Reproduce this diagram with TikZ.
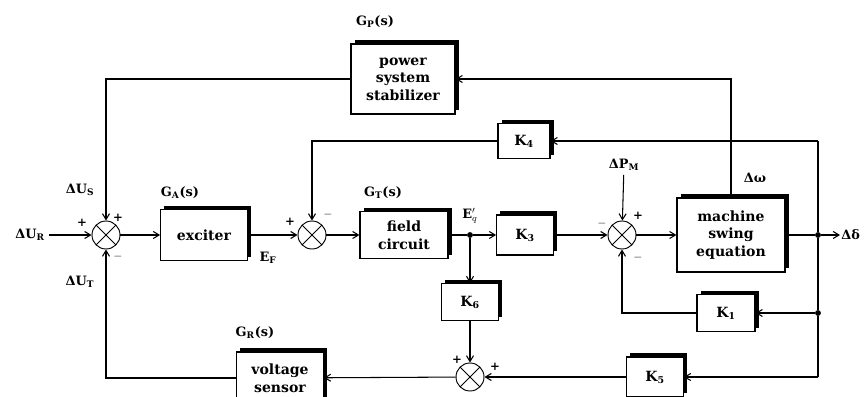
\documentclass[tikz,border=0pt]{standalone}
\usepackage{fontspec}
\setmainfont{DejaVu Serif}
\usetikzlibrary{arrows.meta,positioning,shadows}

\begin{document}
\begin{tikzpicture}[x=0.03cm, y=-0.03cm,
    font=\bfseries\fontsize{11}{13}\selectfont,
    block/.style={draw, fill=white, line width=0.9pt, align=center, inner sep=1pt, font=\bfseries\fontsize{12}{15}\selectfont, general shadow={fill=black, shadow xshift=3pt, shadow yshift=3pt}},
    sumnode/.style={draw, circle, fill=white, line width=0.8pt, minimum size=0.84cm, inner sep=0pt, path picture={\draw[line width=0.8pt] (path picture bounding box.north west) -- (path picture bounding box.south east) (path picture bounding box.north east) -- (path picture bounding box.south west);}},
    arrow/.style={-{Straight Barb[length=5pt,width=6pt]}, line width=0.9pt},
    line/.style={line width=0.9pt},
    dot/.style={circle, fill, inner sep=0pt, minimum size=5pt},
    sign/.style={font=\bfseries\fontsize{10}{10}\selectfont, inner sep=0pt}
  ]
    \useasboundingbox (0,0) rectangle (865,397);
    % forward path
    \node (ur) at (30,235) {ΔU\textsubscript{R}};
    \node[sumnode] (s1) at (106,235) {};
    \node[block, minimum width=2.6cm, minimum height=1.53cm] (exc) at (204,235) {exciter};
    \node at (180,193) {G\textsubscript{A}(s)};
    \node at (268,258) {E\textsubscript{F}};
    \node[sumnode] (s2) at (312,235) {};
    \node[block, minimum width=2.64cm, minimum height=1.4cm] (fc) at (404,235) {field\\circuit};
    \node at (383,193) {G\textsubscript{T}(s)};
    \node[dot] (j1) at (470,235) {};
    \node at (470,216) {E$'_{q}$};
    \node[block, minimum width=1.7cm, minimum height=1.2cm] (k3) at (525,235) {K\textsubscript{3}};
    \node[sumnode] (s4) at (622,235) {};
    \node (pm) at (624,165) {ΔP\textsubscript{M}};
    \node[block, minimum width=3.24cm, minimum height=2.22cm] (mse) at (731,235) {machine\\swing\\equation};
    \node at (755,178) {Δω};
    \node[dot] (j2) at (818,235) {};
    \node[anchor=west, inner sep=1pt] (dd) at (840,235) {Δδ};
    % feedback blocks
    \node[block, minimum width=3.12cm, minimum height=2.1cm] (pss) at (403,79) {power\\system\\stabilizer};
    \node at (375,22) {G\textsubscript{P}(s)};
    \node[block, minimum width=1.56cm, minimum height=1.05cm] (k4) at (524,141) {K\textsubscript{4}};
    \node[block, minimum width=1.74cm, minimum height=1.1cm] (k1) at (726,313) {K\textsubscript{1}};
    \node[dot] (j3) at (818,313) {};
    \node[block, minimum width=1.7cm, minimum height=1.1cm] (k6) at (470,302) {K\textsubscript{6}};
    \node[sumnode] (s3) at (470,377) {};
    \node[block, minimum width=1.7cm, minimum height=1.2cm] (k5) at (655,377) {K\textsubscript{5}};
    \node[block, minimum width=2.6cm, minimum height=1.56cm] (vs) at (280,378) {voltage\\sensor};
    \node at (255,333) {G\textsubscript{R}(s)};
    \coordinate (c1) at (818,141);
    \coordinate (c7) at (818,377);
    % labels at the summing points
    \node at (80,190) {ΔU\textsubscript{S}};
    \node at (80,282) {ΔU\textsubscript{T}};
    \node[sign] at (82,223) {+};
    \node[sign] at (118,218) {+};
    \node[sign] at (118,257) {$-$};
    \node[sign] at (290,222) {+};
    \node[sign] at (328,215) {$-$};
    \node[sign] at (602,224) {$-$};
    \node[sign] at (638,216) {+};
    \node[sign] at (638,258) {$-$};
    \node[sign] at (457,360) {+};
    \node[sign] at (495,367) {+};
    % connections
    \draw[arrow] (ur) -- (s1);
    \draw[arrow] (s1) -- (exc);
    \draw[arrow] (exc) -- (s2);
    \draw[arrow] (s2) -- (fc);
    \draw[line] (fc) -- (j1);
    \draw[arrow] (j1) -- (k3);
    \draw[arrow] (j1) -- (k6);
    \draw[arrow] (k6) -- (s3);
    \draw[arrow] (s3) -- (vs);
    \draw[arrow] (k3) -- (s4);
    \draw[arrow] (pm) -- (s4);
    \draw[arrow] (s4) -- (mse);
    \draw[line] (mse) -- (j2);
    \draw[arrow] (j2) -- (dd);
    \draw[line] (c1) -- (j2) -- (j3) -- (c7);
    \draw[arrow] (c1) -- (k4);
    \draw[arrow] (j3) -- (k1);
    \draw[arrow] (c7) -- (k5);
    \draw[arrow] (k5) -- (s3);
    \draw[arrow] (k1) -| (s4);
    \draw[arrow] (k4) -| (s2);
    \draw[arrow] (mse) |- (pss);
    \draw[arrow] (pss) -| (s1);
    \draw[arrow] (vs) -| (s1);
  \end{tikzpicture}
\end{document}
